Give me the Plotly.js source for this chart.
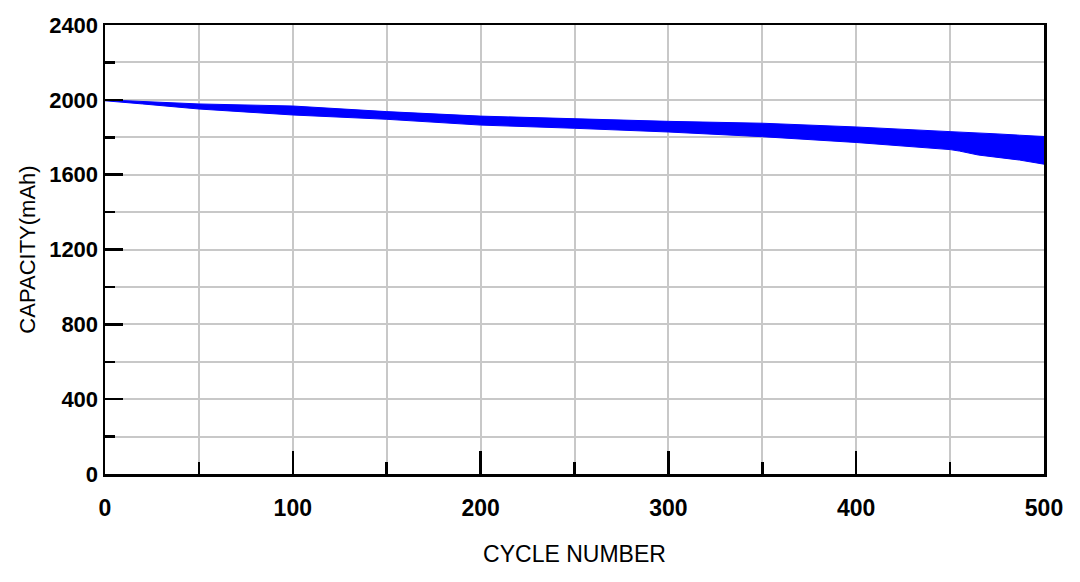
<!DOCTYPE html>
<html>
<head>
<meta charset="utf-8">
<script src="https://cdn.plot.ly/plotly-3.0.1.min.js"></script>
<style>html,body{margin:0;padding:0;background:#fff;}#chart{width:1080px;height:582px;}</style>
</head>
<body>
<div id="chart"></div>
<script>
var cycles = [0, 10, 20, 50, 100, 150, 200, 250, 300, 350, 400, 450, 455, 465, 475, 487, 500];
var capacityUpper = [2000, 1996, 1993, 1978, 1967, 1937, 1913, 1898, 1885, 1875, 1855, 1830, 1828, 1823, 1818, 1811, 1804];
var capacityLower = [1995, 1985, 1978, 1951, 1919, 1896, 1865, 1848, 1828, 1803, 1772, 1734, 1726, 1705, 1694, 1678, 1656];
var xTickLabels = ["0", "100", "200", "300", "400", "500"];
var yTickLabels = ["0", "400", "800", "1200", "1600", "2000", "2400"];

var fam = "Liberation Sans, Arial, sans-serif";
var traces = [
  {x: cycles, y: capacityUpper, mode: "lines", line: {color: "#0000ff", width: 1}, hoverinfo: "skip", showlegend: false},
  {x: cycles, y: capacityLower, mode: "lines", line: {color: "#0000ff", width: 1}, fill: "tonexty", fillcolor: "#0000ff", hoverinfo: "skip", showlegend: false}
];
var grid = "#c8c8c8";
var layout = {
  width: 1080, height: 582,
  margin: {l: 105, r: 36, t: 25, b: 108},
  paper_bgcolor: "#fff", plot_bgcolor: "#fff",
  showlegend: false,
  xaxis: {
    range: [0, 500], tickmode: "array", tickvals: [0, 100, 200, 300, 400, 500], ticktext: xTickLabels,
    ticks: "inside", ticklen: 23, tickwidth: 2.5, tickcolor: "#000",
    showgrid: true, gridcolor: grid, gridwidth: 2,
    minor: {dtick: 50, ticks: "inside", ticklen: 12, tickwidth: 2.5, tickcolor: "#000", showgrid: true, gridcolor: grid, gridwidth: 2},
    showline: true, linecolor: "#000", linewidth: 2.5, mirror: true, zeroline: false,
    tickfont: {family: fam, size: 23, color: "#000", weight: "bold"},
    ticklabelstandoff: 12,
    title: {text: "CYCLE NUMBER", font: {family: fam, size: 23, color: "#000"}, standoff: 26}
  },
  yaxis: {
    range: [0, 2400], tickmode: "array", tickvals: [0, 400, 800, 1200, 1600, 2000, 2400], ticktext: yTickLabels,
    ticks: "inside", ticklen: 18, tickwidth: 2.5, tickcolor: "#000",
    showgrid: true, gridcolor: grid, gridwidth: 2,
    minor: {dtick: 200, ticks: "inside", ticklen: 10, tickwidth: 2.5, tickcolor: "#000", showgrid: true, gridcolor: grid, gridwidth: 2},
    showline: true, linecolor: "#000", linewidth: 2.5, mirror: true, zeroline: false,
    tickfont: {family: fam, size: 22, color: "#000", weight: "bold"},
    title: {text: "CAPACITY(mAh)", font: {family: fam, size: 22, color: "#000"}, standoff: 8}
  }
};
Plotly.newPlot("chart", traces, layout, {displayModeBar: false, staticPlot: true});
</script>
</body>
</html>
